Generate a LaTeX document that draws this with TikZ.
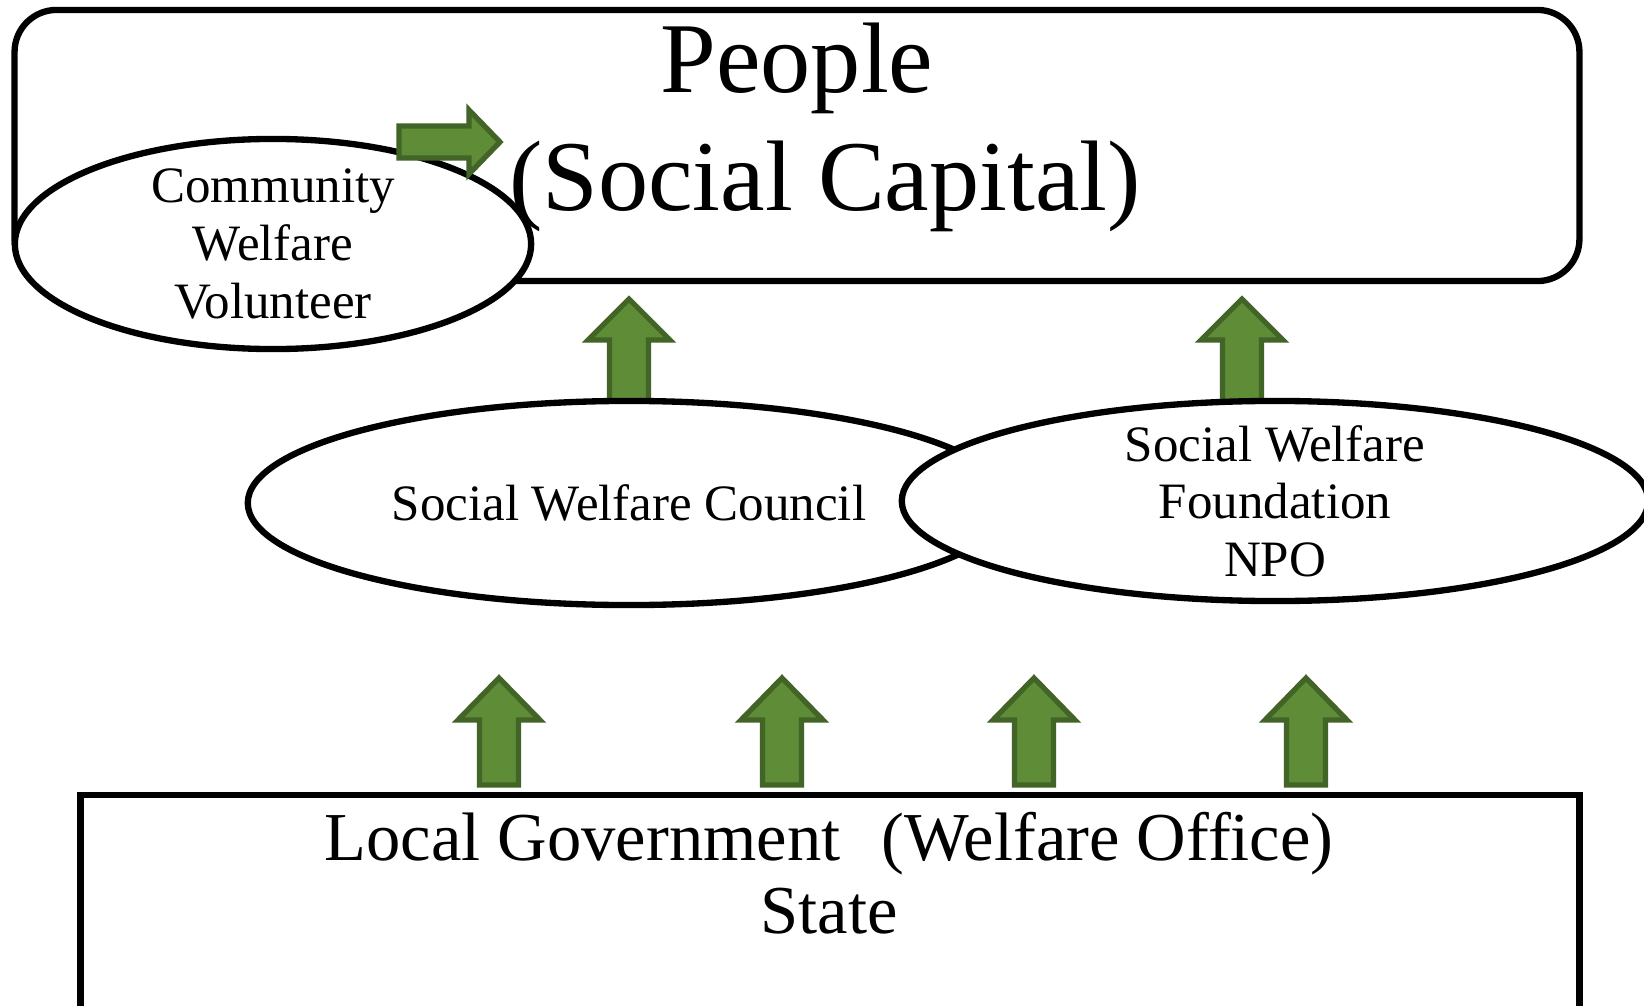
\documentclass[tikz,border=0pt]{standalone}
\usepackage{fontspec}
\setmainfont{Liberation Serif}
\usetikzlibrary{shapes.geometric}
\definecolor{arrfill}{RGB}{95,140,55}
\definecolor{arredge}{RGB}{66,100,38}
\newcommand{\grnup}[4]{\draw[blockarr] (#1,#2) -- (#1+41,#3) -- (#1+19.5,#3) -- (#1+19.5,#4) -- (#1-19.5,#4) -- (#1-19.5,#3) -- (#1-41,#3) -- cycle;}
\begin{document}
\begin{tikzpicture}[x=0.01cm,y=-0.01cm,line join=miter,
  box/.style={draw,line width=1.8pt,inner sep=0pt},
  bubble/.style={draw,ellipse,fill=white,line width=1.8pt,inner sep=0pt},
  blockarr/.style={draw=arredge,fill=arrfill,line width=1.5pt},
  midtext/.style={align=center,font=\fontsize{14.5}{16.4}\selectfont}]
\useasboundingbox (0,0) rectangle (1644,1006);
\fill[white] (0,0) rectangle (1644,1006);
% people box
\node[box,rounded corners=0.42cm,minimum width=15.64cm,minimum height=2.71cm] (peoplebox) at (797,145.5) {};
\node[anchor=base,font=\fontsize{28.5}{34}\selectfont] (people) at (797,92) {People};
\node[anchor=base,font=\fontsize{28.5}{34}\selectfont] (capital) at (825,210) {(Social Capital)};
\foreach \x in {629,1242}
  \grnup{\x}{299}{340}{402};
% community volunteer
\node[bubble,minimum width=5.16cm,minimum height=2.1cm] (cwv) at (273,244) {};
\node[midtext] (cwvtext) at (cwv) {Community\\Welfare\\Volunteer};
\draw[blockarr] (399,126) -- (469,126) -- (469,110) -- (500,142) -- (469,174) -- (469,158) -- (399,158) -- cycle;
% middle layer
\node[bubble,minimum width=7.62cm,minimum height=2.04cm] (swc) at (629,503) {};
\node[midtext] (swctext) at (swc) {Social Welfare Council};
\node[bubble,minimum width=7.46cm,minimum height=2.0cm] (swf) at (1275,501) {};
\node[midtext] (swftext) at (swf) {Social Welfare\\Foundation\\NPO};
\foreach \x in {499,782,1034,1306}
  \grnup{\x}{678}{720}{785};
% state box
\node[box,minimum width=14.98cm,minimum height=2.35cm] (statebox) at (830,912.5) {};
\node[anchor=base,font=\fontsize{19.5}{24}\selectfont] (local) at (829,860) {Local Government\hspace{0.6em}(Welfare Office)};
\node[anchor=base,font=\fontsize{19.5}{24}\selectfont] (state) at (829,933) {State};
\end{tikzpicture}
\end{document}
